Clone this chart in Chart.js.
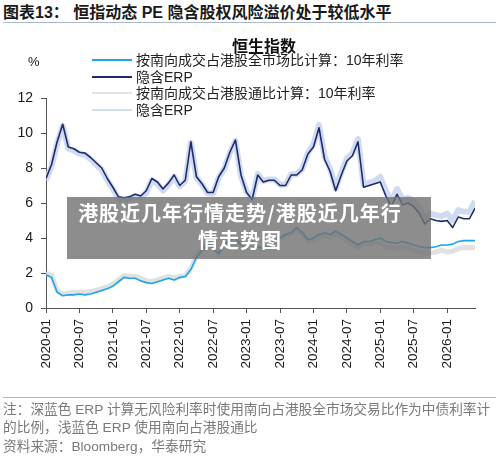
<!DOCTYPE html>
<html>
<head>
<meta charset="utf-8">
<script src="https://cdn.jsdelivr.net/npm/chart.js@4.4.1/dist/chart.umd.min.js"></script>
<style>
  html, body { margin:0; padding:0; background:#fff; }
  body { width:500px; height:458px; position:relative; overflow:hidden;
         font-family:"Liberation Sans","Noto Sans CJK SC",sans-serif; }
  .abs { position:absolute; white-space:nowrap; }
  #title { left:3px; top:3px; font-size:16px; font-weight:bold; color:#1a1a1a; line-height:20px; }
  #titleRule { left:3px; top:22px; width:493px; height:0; border-top:1.5px solid #a9b8cc; }
  #chartTitle { left:232px; top:37px; font-size:16px; font-weight:bold; color:#111; line-height:20px; }
  #pct { left:28px; top:53px; font-size:13px; color:#111; line-height:18px; }
  .lg { left:92px; height:18px; line-height:18px; font-size:14px; color:#222; }
  .lg i { display:inline-block; width:40px; height:0; vertical-align:middle; margin-right:4px; position:relative; top:-1px; }
  #canvasWrap { left:0; top:0; width:500px; height:458px; }
  #overlay { left:67px; top:197px; width:364px; height:62px; background:rgba(112,112,112,0.8); }
  #overlayText { left:67px; top:199px; width:346px; text-align:center; color:#fff; font-weight:bold;
                 font-size:20px; line-height:27px; letter-spacing:1px; font-family:"Noto Sans CJK SC","Liberation Sans",sans-serif; }
  #footRule { left:3px; top:397px; width:493px; height:0; border-top:1.5px solid #a9b8cc; }
  .ft { left:3px; font-size:13.7px; color:#7a7a7a; line-height:18px; }
</style>
</head>
<body>
<div class="abs" id="title">图表13：&nbsp;恒指动态 PE 隐含股权风险溢价处于较低水平</div>
<div class="abs" id="titleRule"></div>
<div class="abs" id="canvasWrap"><canvas id="c" width="500" height="458"></canvas></div>
<div class="abs" id="chartTitle">恒生指数</div>
<div class="abs" id="pct">%</div>
<div class="abs lg" style="top:51px"><i style="border-top:2px solid #1aa7ec"></i>按南向成交占港股全市场比计算：10年利率</div>
<div class="abs lg" style="top:67.5px"><i style="border-top:2px solid #1c2b6b"></i>隐含ERP</div>
<div class="abs lg" style="top:84px"><i style="border-top:2px solid #e4e4e4"></i>按南向成交占港股通比计算：10年利率</div>
<div class="abs lg" style="top:100.5px"><i style="border-top:2px solid #d3ddf1"></i>隐含ERP</div>
<div class="abs" id="overlay"></div>
<div class="abs" id="overlayText">港股近几年行情走势/港股近几年行<br>情走势图</div>
<div class="abs" id="footRule"></div>
<div class="abs ft" style="top:401px">注：深蓝色 ERP 计算无风险利率时使用南向占港股全市场交易比作为中债利率计</div>
<div class="abs ft" style="top:419px">的比例，浅蓝色 ERP 使用南向占港股通比</div>
<div class="abs ft" style="top:438px">资料来源：Bloomberg，华泰研究</div>
<script>
// Monthly observations starting 2020-01 (index 0) through 2026-06 (index 77)
const tickLabels = ['2020-01','2020-07','2021-01','2021-07','2022-01','2022-07','2023-01','2023-07','2024-01','2024-07','2025-01','2025-07','2026-01'];

const rateAll = [1.9,1.75,0.9,0.7,0.75,0.75,0.8,0.75,0.8,0.9,
  1.0,1.1,1.25,1.5,1.75,1.7,1.7,1.55,1.45,1.4,
  1.5,1.6,1.7,1.6,1.75,1.8,2.2,2.9,3.3,3.7,
  3.4,3.1,3.6,3.9,4.0,3.6,3.5,3.8,3.5,3.4,
  3.6,3.8,4.0,4.2,4.3,4.6,4.3,3.9,4.0,4.2,
  4.3,4.2,4.4,4.2,4.0,3.8,3.6,3.8,3.8,3.9,
  4.0,3.8,3.75,3.7,3.8,3.7,3.6,3.5,3.45,3.45,
  3.5,3.6,3.6,3.65,3.8,3.85,3.85,3.85];

const erpAll = [7.4,8.2,9.5,10.5,9.2,9.1,8.9,8.85,8.6,8.3,
  8.0,7.4,6.9,6.35,6.3,6.35,6.5,6.4,6.7,7.4,
  7.2,6.8,7.15,7.6,7.0,7.3,9.5,7.5,7.1,6.6,
  6.6,7.5,8.0,8.9,9.6,7.6,6.6,6.2,7.6,7.2,
  7.3,7.3,7.0,7.0,7.6,7.6,7.9,8.8,9.2,10.3,
  8.5,7.8,6.7,7.6,8.4,8.7,9.5,6.9,7.0,7.1,
  7.2,6.4,5.8,6.5,5.9,6.0,5.8,5.4,4.8,5.1,
  5.0,4.95,5.0,4.6,5.2,5.1,5.1,5.7];

const rateConnect = [2.0,1.85,1.0,0.8,0.85,0.9,0.9,0.9,0.95,1.0,
  1.1,1.2,1.35,1.6,1.85,1.8,1.8,1.7,1.55,1.5,
  1.6,1.7,1.8,1.7,1.8,1.85,2.25,2.95,3.35,3.75,
  3.45,3.15,3.65,3.95,4.05,3.65,3.45,3.75,3.45,3.35,
  3.55,3.75,3.95,4.15,4.25,4.55,4.25,3.85,3.85,4.05,
  4.15,4.05,4.25,4.05,3.85,3.65,3.45,3.65,3.65,3.75,
  3.7,3.5,3.45,3.4,3.5,3.4,3.3,3.2,3.15,3.15,
  3.2,3.3,3.2,3.25,3.4,3.45,3.45,3.45];

const erpConnect = [7.3,8.1,9.4,10.4,9.1,9.0,8.8,8.75,8.5,8.2,
  7.9,7.3,6.8,6.25,6.2,6.25,6.4,6.3,6.6,7.3,
  7.1,6.7,7.05,7.5,6.95,7.25,9.45,7.45,7.05,6.55,
  6.55,7.45,7.95,8.85,9.55,7.55,6.65,6.25,7.65,7.25,
  7.35,7.35,7.05,7.05,7.65,7.65,7.95,8.85,9.35,10.45,
  8.65,7.95,6.85,7.75,8.55,8.85,9.65,7.05,7.15,7.25,
  7.5,6.7,6.1,6.8,6.2,6.3,6.1,5.7,5.1,5.4,
  5.3,5.25,5.4,5.0,5.6,5.5,5.5,6.1];

const seriesNames = ['按南向成交占港股全市场比计算：10年利率','隐含ERP','按南向成交占港股通比计算：10年利率','隐含ERP'];

const toPts = arr => arr.map((v, i) => ({ x: i, y: v }));

new Chart(document.getElementById('c'), {
  type: 'line',
  data: {
    datasets: [
      { label: seriesNames[0], data: toPts(rateAll), borderColor: '#1aa7ec', borderWidth: 1.6 },
      { label: seriesNames[1], data: toPts(erpAll), borderColor: '#1c2b6b', borderWidth: 1.6 },
      { label: seriesNames[2], data: toPts(rateConnect), borderColor: 'rgba(222,222,222,0.9)', borderWidth: 5 },
      { label: seriesNames[3], data: toPts(erpConnect), borderColor: 'rgba(200,213,238,0.85)', borderWidth: 6 }
    ]
  },
  options: {
    responsive: false,
    animation: false,
    layout: { padding: { top: 98, right: 25, bottom: 80, left: 0 } },
    elements: { point: { radius: 0 }, line: { tension: 0, borderJoinStyle: 'round' } },
    plugins: { legend: { display: false }, tooltip: { enabled: false }, title: { display: false } },
    scales: {
      x: {
        type: 'linear', min: 0, max: 77,
        afterFit: s => { s.height = 70; },
        ticks: {
          stepSize: 6, includeBounds: false, autoSkip: false,
          minRotation: 90, maxRotation: 90, padding: 6,
          color: '#1a1a1a', font: { size: 13.5, family: 'Liberation Sans' },
          callback: v => (v % 6 === 0 && tickLabels[v / 6]) ? tickLabels[v / 6] : ''
        },
        grid: { drawOnChartArea: false, drawTicks: true, tickLength: 5, color: '#555' },
        border: { display: true, color: '#555', width: 1 }
      },
      y: {
        min: 0, max: 12,
        afterFit: s => { s.width = 46; },
        ticks: { stepSize: 2, padding: 8, color: '#1a1a1a', font: { size: 14, family: 'Liberation Sans' } },
        grid: { drawOnChartArea: false, drawTicks: true, tickLength: 5, color: '#555' },
        border: { display: true, color: '#555', width: 1 }
      }
    }
  }
});
</script>
</body>
</html>
